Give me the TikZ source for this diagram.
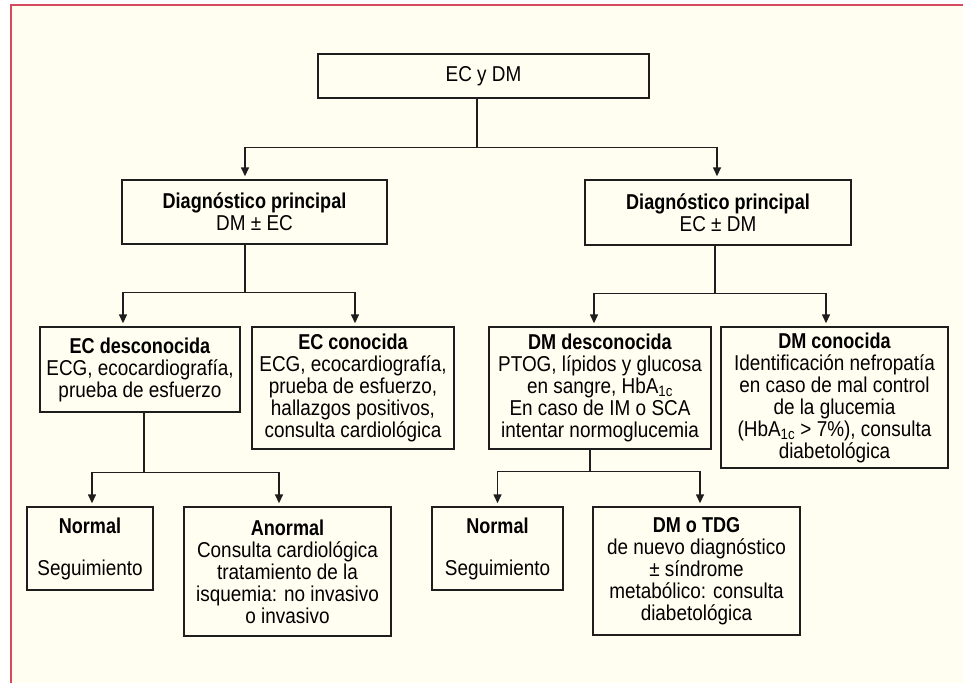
\documentclass[tikz,border=0pt]{standalone}
\usepackage{fontspec}
\setmainfont{Liberation Sans}[FakeStretch=0.88,BoldFeatures={FakeStretch=0.84}]
\usetikzlibrary{arrows.meta,positioning}
\definecolor{cream}{RGB}{255,254,240}
\definecolor{frame}{RGB}{214,74,94}
\definecolor{ink}{RGB}{30,30,30}
\tikzset{
  box/.style={draw=ink, line width=1.4pt, align=center, inner sep=0pt,
    font=\fontsize{21.5}{22}\selectfont},
  link/.style={draw=ink, line width=1.4pt, -{Triangle[length=9pt,width=8pt]}, shorten >=3pt},
}

\begin{document}
\begin{tikzpicture}[x=1pt, y=-1pt]
	\useasboundingbox (0,0) rectangle (963,683);
	\fill[cream] (11,4.5) rectangle (963,683);
	\draw[frame, line width=2pt] (11,683) -- (11,4.5) -- (963,4.5);

	\node[box, minimum width=331pt, minimum height=44pt] at (483.5,76) (top) {EC y DM};
	\node[box, minimum width=265pt, minimum height=64pt] at (254.5,212) (dpl) {\textbf{Diagnóstico principal}\\DM ± EC};
	\node[box, minimum width=266pt, minimum height=65pt] at (718,212.5) (dpr) {\textbf{Diagnóstico principal}\\EC ± DM};
	\node[box, minimum width=200pt, minimum height=85pt] at (140,369.5) (ecd) {\textbf{EC desconocida}\\ECG, ecocardiografía,\\prueba de esfuerzo};
	\node[box, minimum width=202pt, minimum height=122pt] at (353,388) (ecc) {\textbf{EC conocida}\\ECG, ecocardiografía,\\prueba de esfuerzo,\\hallazgos positivos,\\consulta cardiológica};
	\node[box, minimum width=222pt, minimum height=122pt] at (600,388) (dmd) {\textbf{DM desconocida}\\PTOG, lípidos y glucosa\\en sangre, HbA\textsubscript{1c}\\En caso de IM o SCA\\intentar normoglucemia};
	\node[box, minimum width=227pt, minimum height=141pt] at (834.5,397.5) (dmc) {\textbf{DM conocida}\\Identificación nefropatía\\en caso de mal control\\de la glucemia\\(HbA\textsubscript{1c} > 7\%), consulta\\diabetológica};
	\node[box, minimum width=126pt, minimum height=83pt] at (90,548.5) (nl) {\textbf{Normal}\\[20pt]Seguimiento};
	\node[box, minimum width=207pt, minimum height=129pt] at (287.5,571.5) (an) {\textbf{Anormal}\\Consulta cardiológica\\tratamiento de la\\isquemia: no invasivo\\o invasivo};
	\node[box, minimum width=131pt, minimum height=83pt] at (497.5,548.5) (nr) {\textbf{Normal}\\[20pt]Seguimiento};
	\node[box, minimum width=207pt, minimum height=128pt] at (696.5,571) (dmt) {\textbf{DM o TDG}\\de nuevo diagnóstico\\± síndrome\\metabólico: consulta\\diabetológica};

	\foreach \from/\fx/\drop/\to/\tx in {top/-6.5/49/dpl/-9.5, top/-6.5/49/dpr/-1,
		dpl/-9.5/48/ecd/-17, dpl/-9.5/48/ecc/2, dpr/-3/48/dmd/-6, dpr/-3/48/dmc/-8.5,
		ecd/4/60/nl/2, ecd/4/60/an/-8.5, dmd/-10/22/nr/0, dmd/-10/22/dmt/3.5}
		\draw[link] ([xshift=\fx pt]\from.south) -- ++(0,\drop) -| ([xshift=\tx pt]\to.north);
\end{tikzpicture}
\end{document}
